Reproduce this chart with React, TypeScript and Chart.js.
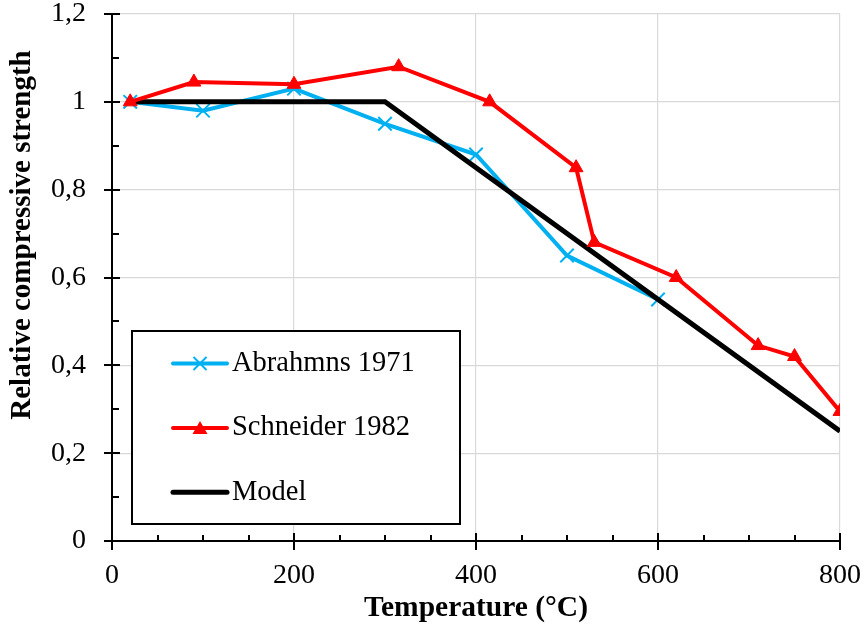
import React, { useEffect, useRef } from 'react';
import { Chart, registerables } from 'chart.js';

Chart.register(...registerables);

// Temperature (°C) and relative compressive strength for each series
const abrahmnsTemp = [20, 100, 200, 300, 400, 500, 600];
const abrahmnsStrength = [1.0, 0.98, 1.03, 0.95, 0.88, 0.65, 0.55];

const schneiderTemp = [20, 90, 200, 315, 415, 510, 530, 620, 710, 750, 800];
const schneiderStrength = [1.0, 1.045, 1.04, 1.08, 1.0, 0.85, 0.68, 0.6, 0.445, 0.42, 0.295];

const modelTemp = [20, 300, 800];
const modelStrength = [1.0, 1.0, 0.25];

const seriesLabels = ['Abrahmns 1971', 'Schneider 1982', 'Model'];

const xAxisTitle = 'Temperature (°C)';
const yAxisTitle = 'Relative compressive strength';

const xMajorTicks = [0, 200, 400, 600, 800];
const xMinorTicks = [50, 100, 150, 250, 300, 350, 450, 500, 550, 650, 700, 750];
const yMajorTicks = [0, 0.2, 0.4, 0.6, 0.8, 1.0, 1.2];
const yMinorTicks = [0.1, 0.3, 0.5, 0.7, 0.9, 1.1];

const FONT = "'Liberation Serif', 'Times New Roman', serif";

const toPoints = (xs: number[], ys: number[]) => xs.map((x, i) => ({ x, y: ys[i] }));

const formatDecimal = (v: number) => {
  const r = Math.round(v * 10) / 10;
  return String(r).replace('.', ',');
};

// Keep the plot area fixed: the scale reserves only the given size, no label overflow padding
const fixScaleSize = (size: number) => (scale: any) => {
  if (scale.isHorizontal()) scale.height = size;
  else scale.width = size;
  scale.paddingTop = 0;
  scale.paddingBottom = 0;
  scale.paddingLeft = 0;
  scale.paddingRight = 0;
};

// Excel-style tick marks: major ticks cross the axis, minor ticks point inward
const axisTickMarks = {
  id: 'axisTickMarks',
  afterDraw(chart: any) {
    const { ctx, chartArea, scales } = chart;
    const xs = scales.x;
    const ys = scales.y;
    ctx.save();
    ctx.strokeStyle = '#000';
    ctx.lineWidth = 2;
    ctx.beginPath();
    const left = chartArea.left;
    const bottom = chartArea.bottom;
    yMajorTicks.forEach((v) => {
      const py = Math.round(ys.getPixelForValue(v));
      ctx.moveTo(left - 8, py);
      ctx.lineTo(left + 8, py);
    });
    yMinorTicks.forEach((v) => {
      const py = Math.round(ys.getPixelForValue(v));
      ctx.moveTo(left, py);
      ctx.lineTo(left + 7, py);
    });
    xMajorTicks.forEach((v) => {
      const px = Math.round(xs.getPixelForValue(v));
      ctx.moveTo(px, bottom - 8);
      ctx.lineTo(px, bottom + 9);
    });
    xMinorTicks.forEach((v) => {
      const px = Math.round(xs.getPixelForValue(v));
      ctx.moveTo(px, bottom - 6);
      ctx.lineTo(px, bottom);
    });
    ctx.stroke();
    ctx.restore();
  },
};

// Vertical axis title, set a little above the middle of the axis
const yTitle = {
  id: 'yTitle',
  afterDraw(chart: any) {
    const { ctx } = chart;
    ctx.save();
    ctx.translate(23, 235);
    ctx.rotate(-Math.PI / 2);
    ctx.fillStyle = '#000';
    ctx.font = `bold 29px ${FONT}`;
    ctx.textAlign = 'center';
    ctx.textBaseline = 'middle';
    ctx.fillText(yAxisTitle, 0, 0);
    ctx.restore();
  },
};

// Boxed legend placed inside the plot area
const insetLegend = {
  id: 'insetLegend',
  afterDraw(chart: any) {
    const { ctx, chartArea } = chart;
    const bx = chartArea.left + 20;
    const by = chartArea.top + 317;
    const bw = 328;
    const bh = 193;
    ctx.save();
    ctx.fillStyle = '#ffffff';
    ctx.fillRect(bx, by, bw, bh);
    ctx.strokeStyle = '#000';
    ctx.lineWidth = 2;
    ctx.strokeRect(bx, by, bw, bh);

    chart.data.datasets.forEach((ds: any, i: number) => {
      const cy = by + 32.5 + i * 64.4;
      const x0 = bx + 41;
      const x1 = bx + 95;
      const xm = (x0 + x1) / 2;
      ctx.strokeStyle = ds.borderColor;
      ctx.lineWidth = ds.borderWidth;
      ctx.lineCap = 'round';
      ctx.beginPath();
      ctx.moveTo(x0, cy);
      ctx.lineTo(x1, cy);
      ctx.stroke();
      ctx.lineCap = 'butt';
      if (ds.pointStyle === 'crossRot') {
        const h = 6.5;
        ctx.lineWidth = 2;
        ctx.beginPath();
        ctx.moveTo(xm - h, cy - h);
        ctx.lineTo(xm + h, cy + h);
        ctx.moveTo(xm - h, cy + h);
        ctx.lineTo(xm + h, cy - h);
        ctx.stroke();
      } else if (ds.pointStyle === 'triangle') {
        ctx.fillStyle = ds.pointBackgroundColor;
        ctx.beginPath();
        ctx.moveTo(xm, cy - 7);
        ctx.lineTo(xm + 7.5, cy + 6);
        ctx.lineTo(xm - 7.5, cy + 6);
        ctx.closePath();
        ctx.fill();
      }
      ctx.fillStyle = '#000';
      ctx.font = `28.5px ${FONT}`;
      ctx.textAlign = 'left';
      ctx.textBaseline = 'middle';
      ctx.fillText(ds.label, bx + 100, cy);
    });
    ctx.restore();
  },
};

export default function App() {
  const canvasRef = useRef<HTMLCanvasElement | null>(null);

  useEffect(() => {
    const canvas = canvasRef.current;
    if (!canvas) return;

    const chart = new Chart(canvas, {
      type: 'line',
      data: {
        datasets: [
          {
            label: seriesLabels[0],
            data: toPoints(abrahmnsTemp, abrahmnsStrength),
            borderColor: '#00B0F0',
            backgroundColor: '#00B0F0',
            borderWidth: 4,
            pointStyle: 'crossRot',
            pointRadius: 9.5,
            pointBorderWidth: 2,
            pointBorderColor: '#00B0F0',
            pointBackgroundColor: '#00B0F0',
            tension: 0,
            order: 3,
          },
          {
            label: seriesLabels[1],
            data: toPoints(schneiderTemp, schneiderStrength),
            borderColor: '#FF0000',
            backgroundColor: '#FF0000',
            borderWidth: 4,
            pointStyle: 'triangle',
            pointRadius: 8,
            pointBorderWidth: 1,
            pointBorderColor: '#FF0000',
            pointBackgroundColor: '#FF0000',
            tension: 0,
            order: 1,
          },
          {
            label: seriesLabels[2],
            data: toPoints(modelTemp, modelStrength),
            borderColor: '#000000',
            backgroundColor: '#000000',
            borderWidth: 5,
            pointRadius: 0,
            pointStyle: 'none' as any,
            tension: 0,
            order: 2,
          },
        ],
      },
      options: {
        responsive: false,
        animation: false,
        events: [],
        layout: { padding: { left: 0, top: 14, right: 24, bottom: 0 } },
        plugins: {
          legend: { display: false },
          tooltip: { enabled: false },
        },
        scales: {
          x: {
            type: 'linear',
            min: 0,
            max: 800,
            ticks: {
              stepSize: 200,
              color: '#000',
              padding: 21,
              font: { family: FONT, size: 28, lineHeight: 1 },
              maxRotation: 0,
            },
            grid: { color: '#d9d9d9', lineWidth: 1.2, drawTicks: false },
            border: { display: true, color: '#000', width: 2 },
            title: {
              display: true,
              text: xAxisTitle,
              color: '#000',
              font: { family: FONT, size: 29.5, weight: 'bold', lineHeight: 1.2 },
              padding: { top: 0, bottom: 13 },
            },
            afterFit: fixScaleSize(98),
          },
          y: {
            type: 'linear',
            min: 0,
            max: 1.2,
            ticks: {
              stepSize: 0.2,
              color: '#000',
              padding: 26,
              font: { family: FONT, size: 28, lineHeight: 1 },
              callback: (v: any) => formatDecimal(Number(v)),
            },
            grid: { color: '#d9d9d9', lineWidth: 1.2, drawTicks: false },
            border: { display: true, color: '#000', width: 2 },
            title: { display: false },
            afterFit: fixScaleSize(112),
          },
        },
      },
      plugins: [axisTickMarks, yTitle, insetLegend],
    });

    return () => {
      chart.destroy();
    };
  }, []);

  return (
    <div style={{ position: 'fixed', left: 0, top: 0, width: 864, height: 639, background: '#fff' }}>
      <canvas ref={canvasRef} width={864} height={639} style={{ display: 'block' }} />
    </div>
  );
}
